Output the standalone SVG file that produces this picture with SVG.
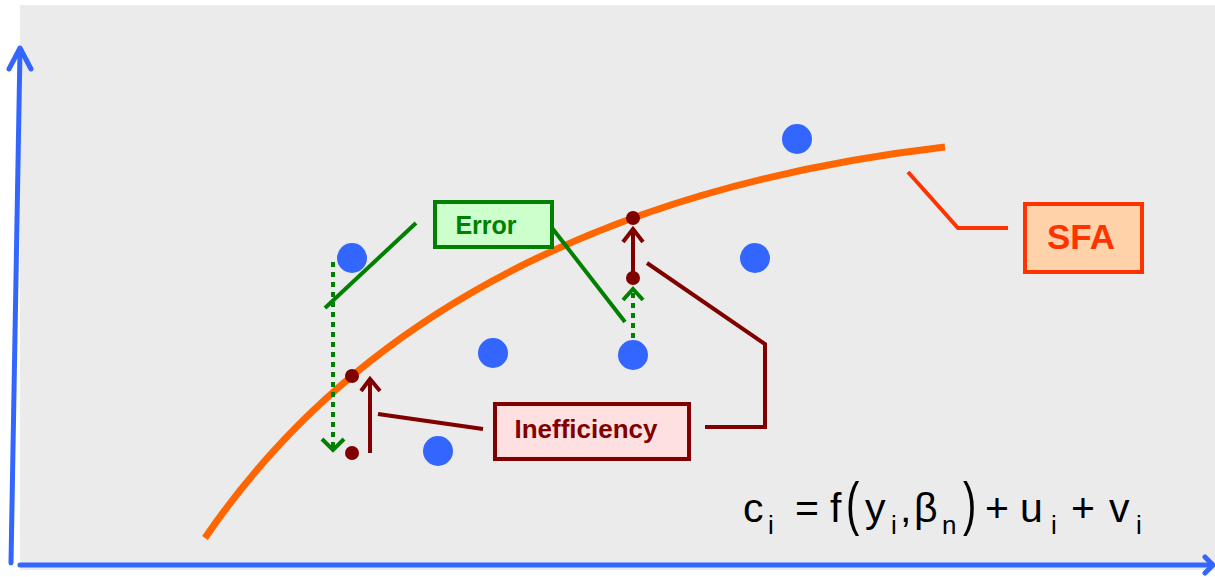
<svg xmlns="http://www.w3.org/2000/svg" width="1215" height="577" viewBox="0 0 1215 577">
<style>
.lbl{font-family:"Liberation Sans",Arial,sans-serif;font-weight:bold;text-anchor:middle}
.eq{font-family:"Liberation Sans",Arial,sans-serif;fill:#000}
.pt{fill:#3366ff}
.dr{fill:#800000}
.ax{stroke:#3366ff;stroke-width:5;fill:none;stroke-linecap:round;stroke-linejoin:round}
.red{stroke:#800000;stroke-width:4;fill:none}
.grn{stroke:#008000;stroke-width:4;fill:none}
.dot{stroke:#008000;stroke-width:4;fill:none;stroke-dasharray:5 5}
.sfa{stroke:#ff3300;stroke-width:4;fill:none}
</style>
<rect x="0" y="0" width="1215" height="577" fill="#ffffff"/>
<rect x="20" y="5" width="1195" height="565" fill="#ebebeb"/>
<g id="axes">
<path class="ax" d="M11,563 L20,50"/>
<path class="ax" d="M9,69 L20,48 L31,69"/>
<path class="ax" d="M20,565 L1212,565"/>
<path class="ax" d="M1205,557 L1213,565 L1205,573"/>
</g>
<g id="curve">
<path d="M205,538 C375.6,287.6 656.3,180.6 945,147" stroke="#ff6600" stroke-width="7" fill="none"/>
</g>
<g id="data-points">
<circle class="pt" cx="352" cy="258" r="15"/>
<circle class="pt" cx="493" cy="353" r="15"/>
<circle class="pt" cx="438" cy="451" r="15"/>
<circle class="pt" cx="633" cy="355" r="15"/>
<circle class="pt" cx="755" cy="258" r="15"/>
<circle class="pt" cx="797" cy="139" r="15"/>
</g>
<g id="connectors">
<path class="dot" d="M333,262 L333,448"/>
<path class="grn" d="M322,439 L333,450 L344,439"/>
<path class="dot" d="M633,338 L633,292"/>
<path class="grn" d="M623,300 L633,289 L643,300"/>
<path class="red" d="M370,453 L370,380"/>
<path class="red" d="M361,391 L370,379 L380,391"/>
<path class="red" d="M633,278 L633,228"/>
<path class="red" d="M623,242 L633,229 L643,242"/>
<path class="grn" d="M416,223 L325,308"/>
<path class="grn" d="M549,224 L625,322"/>
<path class="red" d="M378,414 L483,429"/>
<path class="red" d="M705,427 L765,427 L765,344 L647,263"/>
<path class="sfa" d="M908,172 L958,228 L1008,228"/>
</g>
<g id="marks">
<circle class="dr" cx="352" cy="376" r="7"/>
<circle class="dr" cx="352" cy="453" r="7"/>
<circle class="dr" cx="633" cy="218" r="7"/>
<circle class="dr" cx="633" cy="278" r="7"/>
</g>
<g id="error">
<rect x="435" y="202" width="117" height="45" fill="#ccffcc" stroke="#008000" stroke-width="4"/>
<text class="lbl" x="486" y="234" font-size="25" fill="#008000">Error</text>
</g>
<g id="inefficiency">
<rect x="495" y="404" width="194" height="55" fill="#ffe0e0" stroke="#800000" stroke-width="4"/>
<text class="lbl" x="586" y="438" font-size="26" fill="#800000">Inefficiency</text>
</g>
<g id="sfa">
<rect x="1025" y="204" width="117" height="68" fill="#ffd2aa" stroke="#ff3300" stroke-width="4"/>
<text class="lbl" x="1081" y="249" font-size="35" fill="#ff3300">SFA</text>
</g>
<g id="equation" class="eq">
<text x="743" y="522" font-size="41">c</text>
<text x="768" y="534" font-size="26">i</text>
<text x="795" y="522" font-size="41">=</text>
<text x="830" y="522" font-size="41">f</text>
<text transform="translate(846,524) scale(1,1.5)" font-size="40">(</text>
<text x="865" y="522" font-size="41">y</text>
<text x="891" y="534" font-size="26">i</text>
<text x="900" y="522" font-size="41">,</text>
<text x="914" y="522" font-size="41">β</text>
<text x="942" y="534" font-size="26">n</text>
<text transform="translate(963,524) scale(1,1.5)" font-size="40">)</text>
<text x="985" y="522" font-size="41">+</text>
<text x="1020" y="522" font-size="41">u</text>
<text x="1051" y="534" font-size="26">i</text>
<text x="1071" y="522" font-size="41">+</text>
<text x="1109" y="522" font-size="41">v</text>
<text x="1136" y="534" font-size="26">i</text>
</g>
</svg>
